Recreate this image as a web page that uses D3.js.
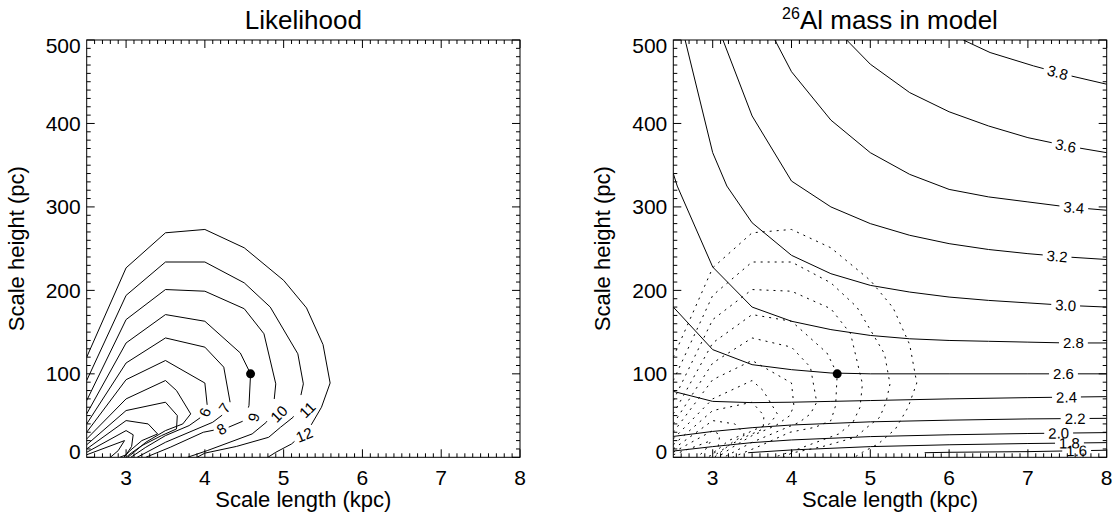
<!DOCTYPE html>
<html><head><meta charset="utf-8">
<script src="https://cdn.jsdelivr.net/npm/d3@7"></script>
<style>
body{margin:0;background:#fff;}
svg{display:block;font-family:"Liberation Sans",Arial,Helvetica,sans-serif;}
</style></head><body>
<svg id="chart" width="1117" height="518"></svg>
<script>
// ---------- data ----------
const xTicks=[3,4,5,6,7,8];
const yTicks=[0,100,200,300,400,500];
const xDomain=[2.5,8];
const yDomain=[0,500];
const bestFit=[4.58,100];

// likelihood contours (x: scale length kpc, y: scale height pc), outermost first
const likeA=[[2.5,120],[3.0,227],[3.5,269],[4.0,273],[4.5,251],[5.0,212],[5.29,179],[5.5,135],[5.59,89],[5.48,60],[5.32,34],[5.1,16],[4.9,6],[4.8,0]];
const likeB=[[2.5,92],[3.0,194],[3.5,234],[4.0,234],[4.5,209],[4.83,180],[5.18,124],[5.25,88],[5.2,66],[5.12,48],[4.96,36],[4.81,24],[4.4,13],[4.0,5],[3.9,0]];
const likeC=[[2.5,68],[3.0,165],[3.5,201],[4.0,199],[4.5,178],[4.75,148],[4.9,88],[4.87,60],[4.78,42],[4.6,28],[4.03,8],[3.78,0]];
const likeD=[[2.5,52],[3.0,137],[3.5,171],[4.0,163],[4.45,125],[4.58,100],[4.56,62],[4.5,44],[4.3,36],[3.98,30],[3.56,12],[3.25,0]];
const likeE=[[2.5,40],[3.0,113],[3.5,143],[4.0,132],[4.24,108],[4.32,66],[4.24,52],[4.1,42],[3.85,32],[3.5,18],[3.14,0]];
const likeF=[[2.5,30],[3.0,93],[3.5,116],[4.0,89],[4.03,62],[3.98,50],[3.8,38],[3.5,26],[3.25,12],[3.06,0]];
const likeG=[[2.5,22],[3.0,70],[3.5,92],[3.64,80],[3.82,52],[3.72,40],[3.5,32],[3.25,18],[3.1,6],[3.02,0]];
const likeH=[[2.5,15],[3.0,56],[3.5,66],[3.65,50],[3.64,34],[3.45,26],[3.2,14],[3.05,4],[3.0,0]];
const likeI=[[2.5,10],[3.0,44],[3.28,40],[3.4,28],[3.2,20],[3.05,8],[2.97,0]];
const likeJ=[[2.5,6],[3.0,32],[3.09,27],[3.07,13],[3.0,3],[2.92,0]];
const likeK=[[2.5,3],[2.98,20],[2.9,8],[2.8,0]];
const likeLines=[likeA,likeB,likeC,likeD,likeE,likeF,likeG,likeH,likeI,likeJ,likeK];
// contour labels on the likelihood map
const likeLabelText=["12","11","10","9","8","7","6"];
const likeLabelLine=[0,1,2,3,3,4,5];
const likeLabelX=[5.26,5.30,4.94,4.62,4.21,4.25,4.0];
const likeLabelY=[27,57,52,48,34,59,54];
const likeLabelAngle=[-22,-45,-45,-75,-30,-55,-70];

// 26Al mass contours
const mass16=[[5.69,5.5],[6.0,6],[7.0,6.8],[8.0,8.5]];
const mass18=[[3.45,5.5],[4.0,8.8],[5.0,12.8],[6.0,15],[7.0,16.5],[8.0,17.6]];
const mass20=[[2.5,7.5],[3.0,12.8],[3.5,17.6],[4.0,20.8],[5.0,24.8],[6.0,27],[7.0,28.5],[8.0,29.6]];
const mass22=[[2.5,25],[3.0,31],[3.5,35.5],[4.0,38.7],[5.0,42.5],[6.0,44.5],[7.0,46],[8.0,46.7]];
const mass24=[[2.5,79],[3.0,67],[3.5,65.5],[4.0,66],[4.5,67],[5.0,68],[6.0,70],[7.0,71.5],[8.0,72.7]];
const mass26=[[2.5,180],[3.0,129],[3.5,111],[4.0,105],[4.5,101],[5.0,100],[6.0,100],[7.0,100],[8.0,100]];
const mass28=[[2.5,340],[2.55,325],[3.0,228],[3.5,180],[4.0,163],[4.5,153],[5.0,146],[5.5,142],[6.0,140],[6.5,139],[7.0,138],[7.5,137],[8.0,137]];
const mass30=[[2.65,500],[3.0,365],[3.18,325],[3.5,281],[4.0,242],[4.5,220],[5.0,206],[5.5,198],[6.0,192],[6.5,188],[7.0,185],[7.5,182],[8.0,180]];
const mass32=[[3.13,500],[3.5,409],[4.0,331],[4.5,300],[5.0,280],[5.5,266],[6.0,256],[6.5,249],[7.0,244],[7.5,240],[8.0,237]];
const mass34=[[3.79,500],[4.0,462],[4.5,404],[5.0,365],[5.5,339],[6.0,321],[6.5,312],[7.0,306],[7.5,300],[8.0,296]];
const mass36=[[4.70,500],[5.0,471],[5.5,437],[6.0,414],[6.5,397],[7.0,383],[7.5,373],[8.0,365]];
const mass38=[[6.18,500],[6.52,485],[7.07,469],[7.5,458],[8.0,447]];
const massLevels=["1.6","1.8","2.0","2.2","2.4","2.6","2.8","3.0","3.2","3.4","3.6","3.8"];
const massLines=[mass16,mass18,mass20,mass22,mass24,mass26,mass28,mass30,mass32,mass34,mass36,mass38];
const massLabelX=[7.62,7.53,7.39,7.6,7.49,7.45,7.58,7.48,7.37,7.58,7.48,7.37];
const massLabelY=[6.8,15.6,26.8,44.7,70,98.7,134.6,180,238,296,372,458];

// ---------- drawing ----------
const svg=d3.select("#chart");
const panels=[
  {x0:86.7,x1:520,title:"Likelihood"},
  {x0:673.3,x1:1106.7,title:null}
];
const yTop=40,yBot=457.3;
const TICK_FS=21,AXT_FS=22,TITLE_FS=26,LBL_FS=15;

function makePanel(p,idx){
  const x=d3.scaleLinear().domain(xDomain).range([p.x0,p.x1]);
  const y=d3.scaleLinear().domain(yDomain).range([yBot,yTop]);
  const g=svg.append("g");
  const clipId="clip"+idx;
  svg.append("clipPath").attr("id",clipId).append("rect")
    .attr("x",p.x0).attr("y",yTop).attr("width",p.x1-p.x0).attr("height",yBot-yTop);
  g.append("rect").attr("x",p.x0).attr("y",yTop).attr("width",p.x1-p.x0).attr("height",yBot-yTop)
    .attr("fill","none").attr("stroke","#000").attr("stroke-width",1);
  const xMinor=d3.range(26,81).map(v=>v/10).filter(v=>Math.abs(v-Math.round(v))>1e-6);
  const yMinor=d3.range(10,500,10).filter(v=>v%100!==0);
  const tk=g.append("g").attr("stroke","#000").attr("stroke-width",1);
  const vt=(v,len)=>{
    tk.append("line").attr("x1",x(v)).attr("x2",x(v)).attr("y1",yBot).attr("y2",yBot-len);
    tk.append("line").attr("x1",x(v)).attr("x2",x(v)).attr("y1",yTop).attr("y2",yTop+len);
  };
  const ht=(v,len)=>{
    tk.append("line").attr("y1",y(v)).attr("y2",y(v)).attr("x1",p.x0).attr("x2",p.x0+len);
    tk.append("line").attr("y1",y(v)).attr("y2",y(v)).attr("x1",p.x1).attr("x2",p.x1-len);
  };
  xTicks.forEach(v=>vt(v,8)); xMinor.forEach(v=>vt(v,4));
  yTicks.forEach(v=>ht(v,8)); yMinor.forEach(v=>ht(v,4));
  xTicks.forEach(v=>{
    g.append("text").attr("x",x(v)).attr("y",485).attr("text-anchor","middle")
      .attr("font-size",TICK_FS).text(v);
  });
  yTicks.forEach(v=>{
    let yy=y(v)+7.5;
    if(v===0) yy-=6; if(v===500) yy+=5;
    g.append("text").attr("x",p.x0-6).attr("y",yy).attr("text-anchor","end")
      .attr("font-size",TICK_FS).text(v);
  });
  g.append("text").attr("x",(p.x0+p.x1)/2).attr("y",507).attr("text-anchor","middle")
    .attr("font-size",AXT_FS).text("Scale length (kpc)");
  g.append("text").attr("transform",`translate(${p.x0-63},${(yTop+yBot)/2}) rotate(-90)`)
    .attr("text-anchor","middle").attr("font-size",AXT_FS).text("Scale height (pc)");
  const t=g.append("text").attr("x",(p.x0+p.x1)/2).attr("y",29).attr("text-anchor","middle")
    .attr("font-size",TITLE_FS);
  if(p.title){t.text(p.title);}
  else{
    t.append("tspan").attr("font-size",16).attr("dy",-10).text("26");
    t.append("tspan").attr("dy",10).text("Al mass in model");
  }
  return {g,x,y,clipId};
}

const line=(x,y)=>d3.line().x(d=>x(d[0])).y(d=>y(d[1]));

function nearest(node,px,py){
  const L=node.getTotalLength();
  let best=0,bd=1e9;
  for(let s=0;s<=L;s+=0.5){const q=node.getPointAtLength(s);const d=(q.x-px)**2+(q.y-py)**2;if(d<bd){bd=d;best=s;}}
  return best;
}
function applyGaps(path,gaps){
  const L=path.node().getTotalLength();
  gaps.sort((a,b)=>a.s-b.s);
  const arr=[];let pos=0;
  gaps.forEach(gp=>{const a=Math.max(pos,gp.s-gp.w/2);arr.push(a-pos,gp.w);pos=a+gp.w;});
  arr.push(L+10,0);
  path.attr("stroke-dasharray",arr.join(" "));
}
function measure(g,txt,fs){
  const t=g.append("text").attr("font-size",fs).text(txt);
  const w=t.node().getComputedTextLength();t.remove();return w;
}

// ----- left panel -----
const P1=makePanel(panels[0],1);
const c1=P1.g.append("g").attr("clip-path",`url(#${P1.clipId})`);
const likePaths=likeLines.map(pts=>c1.append("path").attr("d",line(P1.x,P1.y)(pts))
  .attr("fill","none").attr("stroke","#000").attr("stroke-width",1));
const gapsByLine=likeLines.map(()=>[]);
likeLabelText.forEach((txt,i)=>{
  const k=likeLabelLine[i];
  const px=P1.x(likeLabelX[i]),py=P1.y(likeLabelY[i]);
  const s=nearest(likePaths[k].node(),px,py);
  const w=measure(P1.g,txt,LBL_FS)+7;
  gapsByLine[k].push({s,w});
  P1.g.append("text").attr("font-size",LBL_FS).attr("text-anchor","middle").attr("dy","0.36em")
    .attr("transform",`translate(${px},${py}) rotate(${likeLabelAngle[i]})`).text(txt);
});
likePaths.forEach((p,k)=>{if(gapsByLine[k].length)applyGaps(p,gapsByLine[k]);});
P1.g.append("circle").attr("cx",P1.x(bestFit[0])).attr("cy",P1.y(bestFit[1])).attr("r",4.5).attr("fill","#000");

// ----- right panel -----
const P2=makePanel(panels[1],2);
const c2=P2.g.append("g").attr("clip-path",`url(#${P2.clipId})`);
likeLines.forEach(pts=>c2.append("path").attr("d",line(P2.x,P2.y)(pts))
  .attr("fill","none").attr("stroke","#000").attr("stroke-width",1).attr("stroke-dasharray","2,5"));
massLines.forEach((pts,i)=>{
  const pth=c2.append("path").attr("d",line(P2.x,P2.y)(pts))
    .attr("fill","none").attr("stroke","#000").attr("stroke-width",1);
  const node=pth.node();
  const s=nearest(node,P2.x(massLabelX[i]),P2.y(massLabelY[i]));
  const L=node.getTotalLength();
  const a=node.getPointAtLength(Math.max(0,s-5)),b=node.getPointAtLength(Math.min(L,s+5));
  let ang=Math.atan2(b.y-a.y,b.x-a.x)*180/Math.PI;
  if(ang>90)ang-=180; if(ang<-90)ang+=180;
  const c=node.getPointAtLength(s);
  const w=measure(P2.g,massLevels[i],LBL_FS)+8;
  applyGaps(pth,[{s,w}]);
  P2.g.append("text").attr("font-size",LBL_FS).attr("text-anchor","middle").attr("dy","0.36em")
    .attr("transform",`translate(${c.x},${c.y}) rotate(${ang})`).text(massLevels[i]);
});
P2.g.append("circle").attr("cx",P2.x(bestFit[0])).attr("cy",P2.y(bestFit[1])).attr("r",4.5).attr("fill","#000");
</script>
</body></html>
